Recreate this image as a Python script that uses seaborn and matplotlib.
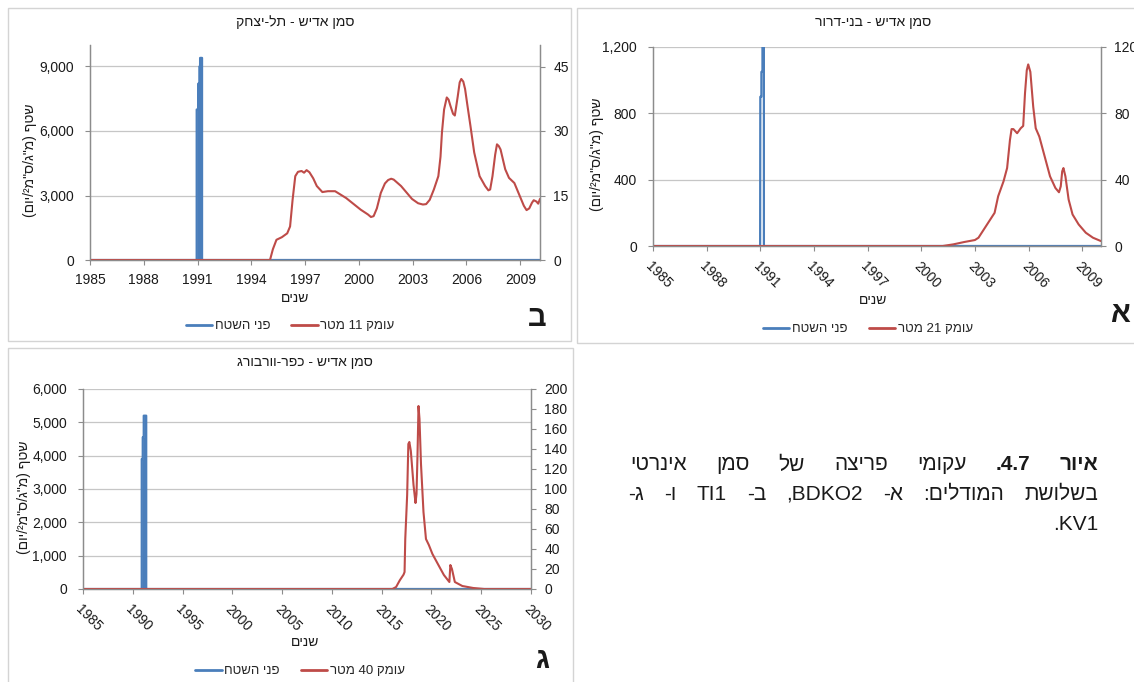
import re
import matplotlib
matplotlib.use("Agg")
import matplotlib.pyplot as plt
import seaborn as sns
from matplotlib.lines import Line2D
from matplotlib.patches import Rectangle
from matplotlib.ticker import FuncFormatter

# ── data ─────────────────────────────────────────────────────────────────────
# panel ב : Tel-Yitzhak (surface on left axis, 11 m depth on right axis)
tl_surf_year = [1985, 1990.95, 1990.951, 1991.03, 1991.031, 1991.10, 1991.101,
                1991.14, 1991.141, 1991.25, 1991.251, 2010.1]
tl_surf_val = [0, 0, 7000, 7000, 8200, 8200, 9000, 9000, 9400, 9400, 0, 0]
tl_deep_year = [1985, 1995.04, 1995.2, 1995.4, 1995.7, 1996.0, 1996.16, 1996.3,
                1996.45, 1996.6, 1996.8, 1996.94, 1997.08, 1997.24, 1997.45,
                1997.65, 1997.96, 1998.27, 1998.67, 1999.29, 2000.1, 2000.5,
                2000.67, 2000.82, 2001.0, 2001.22, 2001.45, 2001.63, 2001.8,
                2001.94, 2002.35, 2002.96, 2003.3, 2003.57, 2003.75, 2003.95,
                2004.18, 2004.43, 2004.55, 2004.63, 2004.75, 2004.9, 2005.0,
                2005.1, 2005.25, 2005.35, 2005.51, 2005.62, 2005.71, 2005.82,
                2005.92, 2006.05, 2006.22, 2006.43, 2006.73, 2007.04, 2007.22,
                2007.32, 2007.45, 2007.6, 2007.7, 2007.8, 2007.9, 2008.16,
                2008.37, 2008.67, 2008.98, 2009.2, 2009.35, 2009.5, 2009.65,
                2009.75, 2009.9, 2010.0, 2010.1]
tl_deep_val = [0, 0, 2.5, 4.7, 5.3, 6.2, 7.8, 14, 19.5, 20.5, 20.7, 20.3, 20.9,
               20.4, 19.0, 17.2, 15.8, 16.0, 16.0, 14.4, 11.7, 10.6, 10.0,
               10.2, 12.0, 15.6, 17.8, 18.6, 18.9, 18.7, 17.2, 14.2, 13.2,
               12.9, 13.0, 14.0, 16.4, 19.5, 24.0, 29.6, 35.0, 37.8, 37.3,
               35.9, 34.0, 33.6, 38.0, 41.3, 42.1, 41.5, 39.8, 36.0, 31.2,
               25.0, 19.5, 17.2, 16.2, 16.4, 19.5, 24.5, 26.9, 26.5, 25.7,
               21.1, 19.1, 17.9, 14.8, 12.6, 11.6, 12.0, 13.3, 13.9, 13.6,
               13.1, 14.2]

# panel א : Bnei-Dror (21 m depth)
bd_surf_year = [1985, 1990.99, 1991.0, 1991.06, 1991.061, 1991.12, 1991.121,
                1991.2, 1991.201, 2010.05]
bd_surf_val = [0, 0, 900, 900, 1050, 1050, 1300, 1300, 0, 0]
bd_deep_year = [1985, 2001.2, 2001.8, 2002.4, 2003.0, 2003.2, 2003.5, 2003.8,
                2004.1, 2004.3, 2004.6, 2004.8, 2004.96, 2005.05, 2005.15,
                2005.36, 2005.56, 2005.7, 2005.8, 2005.9, 2005.98, 2006.1,
                2006.26, 2006.4, 2006.6, 2006.9, 2007.2, 2007.5, 2007.7, 2007.8,
                2007.88, 2007.95, 2008.06, 2008.24, 2008.46, 2008.8, 2009.2,
                2009.6, 2010.04]
bd_deep_val = [0, 0, 1, 2.4, 3.6, 5, 10, 15, 20, 30, 39, 47, 64, 70.5, 70.5,
               68, 71, 72.4, 92, 106, 109.5, 105, 84, 71, 66, 54, 42, 35, 32.4,
               36, 45, 47, 42, 28, 19, 13, 8, 5, 3]

# panel ג : Kfar-Warburg (40 m depth)
kv_surf_year = [1985, 1990.9, 1990.901, 1991.0, 1991.001, 1991.1, 1991.101,
                1991.35, 1991.351, 2030]
kv_surf_val = [0, 0, 3900, 3900, 4550, 4550, 5200, 5200, 0, 0]
kv_deep_year = [1985, 2016.08, 2016.45, 2016.82, 2017.2, 2017.3, 2017.37,
                2017.56, 2017.68, 2017.78, 2017.93, 2018.2, 2018.4, 2018.5,
                2018.6, 2018.7, 2018.8, 2018.95, 2019.2, 2019.45, 2019.74,
                2020.1, 2020.7, 2021.25, 2021.8, 2021.9, 2022.06, 2022.35,
                2023.1, 2024.2, 2025.3, 2030]
kv_deep_val = [0, 0, 2, 8.7, 14.4, 17, 50, 94, 145, 147, 138, 104, 86, 95,
               134, 183, 170, 125, 77, 50, 44, 35, 24, 14, 7, 24, 20, 7, 3, 1,
               0, 0]

surf_label = "פני השטח"
ylabel_text = 'שטף (מ"ג/ס"מ²/יום)'
xlabel_text = "שנים"
caption_lines = ["איור 4.7. עקומי פריצה של סמן אינרטי",
                 "בשלושת המודלים: א- BDKO2, ב- TI1 ו- ג-",
                 "KV1."]

# ── style ────────────────────────────────────────────────────────────────────
sns.set_theme(style="white")
plt.rcParams["font.family"] = ["Liberation Sans", "DejaVu Sans"]

W, H = 1134, 682
BLUE = "#4a7ebb"
RED = "#be4b48"
GRID = "#c6c6c6"
AXIS = "#8c8c8c"
TXT = "#1a1a1a"
comma_fmt = FuncFormatter(lambda v, p: f"{v:,.0f}")

LTR_RUN = re.compile(r"[A-Za-z0-9]+(?:[.,][A-Za-z0-9]+)*")
MIRROR = {"(": ")", ")": "("}


def vis(s):
    """logical RTL string -> visual left-to-right order"""
    tokens, pos = [], 0
    for m in LTR_RUN.finditer(s):
        tokens.extend(s[pos:m.start()])
        tokens.append(m.group())
        pos = m.end()
    tokens.extend(s[pos:])
    return "".join(MIRROR.get(t, t) for t in reversed(tokens))


def fx(x):
    return x / W


def fy(y):
    return 1 - y / H


fig = plt.figure(figsize=(W / 100, H / 100), dpi=100)


def panel(box, axbox, title, surf, deep, deep_label, xlim, xticks,
          ylim_l, yticks_l, ylim_r, yticks_r, rotate, fill, cx, ylab_x,
          xlab_y, leg_y, letter, letter_xy):
    l, t, r, b = box
    fig.add_artist(Rectangle((fx(l), fy(b)), (r - l) / W, (b - t) / H,
                             transform=fig.transFigure, fill=False,
                             ec="#d4d4d4", lw=1))
    al, at, ar, ab = axbox
    ax = fig.add_axes([fx(al), fy(ab), (ar - al) / W, (ab - at) / H])
    ax2 = ax.twinx()

    sx, sy = surf
    if fill:
        ax.fill_between(sx, 0, sy, color=BLUE, lw=0)
    sns.lineplot(x=sx, y=sy, ax=ax, color=BLUE, lw=1.6, estimator=None,
                 sort=False, legend=False)
    dx, dy = deep
    sns.lineplot(x=dx, y=dy, ax=ax2, color=RED, lw=1.5, estimator=None,
                 sort=False, legend=False)

    ax.set_xlim(*xlim)
    ax.set_ylim(*ylim_l)
    ax2.set_ylim(*ylim_r)
    ax.set_xticks(xticks)
    ax.set_yticks(yticks_l)
    ax2.set_yticks(yticks_r)
    ax.yaxis.set_major_formatter(comma_fmt)
    ax.set_xlabel("")
    ax.set_ylabel("")
    ax2.set_ylabel("")
    ax.grid(axis="y", color=GRID, lw=0.9)
    ax.set_axisbelow(True)
    for a in (ax, ax2):
        a.spines["top"].set_visible(False)
        for s in ("left", "right", "bottom"):
            a.spines[s].set_color(AXIS)
            a.spines[s].set_linewidth(0.9)
        a.tick_params(length=3.5, width=0.8, color=AXIS, labelsize=10,
                      labelcolor=TXT)
    ax.tick_params(axis="y", left=True, pad=8)
    ax.tick_params(axis="x", bottom=True, pad=6)
    ax2.tick_params(axis="y", right=True, pad=6)
    if rotate:
        for lab in ax.get_xticklabels():
            lab.set_rotation(-45)
            lab.set_ha("left")
            lab.set_va("top")
            lab.set_rotation_mode("anchor")

    fig.text(fx(cx), fy(t + 14), vis(title), ha="center", va="center",
             fontsize=10, color=TXT)
    fig.text(fx(ylab_x), fy((at + ab) / 2 + 8), vis(ylabel_text), rotation=90,
             ha="center", va="center", fontsize=10, color=TXT)
    fig.text(fx(cx), fy(xlab_y), vis(xlabel_text), ha="center", va="center",
             fontsize=10, color=TXT)
    handles = [Line2D([], [], color=BLUE, lw=2), Line2D([], [], color=RED, lw=2)]
    fig.legend(handles, [vis(surf_label), vis(deep_label)], loc="center",
               bbox_to_anchor=(fx(cx - 5), fy(leg_y)), ncol=2, frameon=False,
               fontsize=9.5, handlelength=2.0, handletextpad=0.2,
               columnspacing=1.6)
    fig.text(fx(letter_xy[0]), fy(letter_xy[1]), letter, ha="center",
             va="center", fontsize=21, fontweight="bold", color=TXT)


# ב (top left)
panel((8, 8, 571, 341), (90, 45, 540, 260), "סמן אדיש - תל-יצחק",
      (tl_surf_year, tl_surf_val), (tl_deep_year, tl_deep_val), "עומק 11 מטר",
      (1985, 2010.1), list(range(1985, 2010, 3)),
      (0, 10000), [0, 3000, 6000, 9000], (0, 50), [0, 15, 30, 45],
      False, True, 295, 30, 298, 326, "ב", (537, 318))

# א (top right)
panel((577, 8, 1140, 343), (653, 47, 1101, 246), "סמן אדיש - בני-דרור",
      (bd_surf_year, bd_surf_val), (bd_deep_year, bd_deep_val), "עומק 21 מטר",
      (1985, 2010.05), list(range(1985, 2010, 3)),
      (0, 1200), [0, 400, 800, 1200], (0, 120), [0, 40, 80, 120],
      True, False, 873, 597, 300, 329, "א", (1120, 314))

# ג (bottom left)
panel((8, 348, 573, 690), (83, 389, 531, 589), "סמן אדיש - כפר-וורבורג",
      (kv_surf_year, kv_surf_val), (kv_deep_year, kv_deep_val), "עומק 40 מטר",
      (1985, 2030), list(range(1985, 2031, 5)),
      (0, 6000), list(range(0, 6001, 1000)), (0, 200), list(range(0, 201, 20)),
      True, True, 305, 24, 642, 671, "ג", (542, 660))

# ── caption (right-to-left, justified) ───────────────────────────────────────
renderer = fig.canvas.get_renderer()


def justify(words, bold, x0, x1, y, size):
    texts = [fig.text(0, fy(y), w, fontsize=size, color=TXT, va="center",
                      ha="left", fontweight="bold" if i in bold else "normal")
             for i, w in enumerate(words)]
    widths = [tx.get_window_extent(renderer).width for tx in texts]
    gap = (x1 - x0 - sum(widths)) / (len(words) - 1)
    x = x0
    for tx, w in zip(texts, widths):
        tx.set_x(fx(x))
        x += w + gap


line1 = vis(caption_lines[0]).split(" ")
justify(line1, {len(line1) - 2, len(line1) - 1}, 630, 1098, 465, 15)
line2 = vis(caption_lines[1]).split(" ")
justify(line2, set(), 628, 1098, 494, 15)
fig.text(fx(1098), fy(524), vis(caption_lines[2]), ha="right", va="center",
         fontsize=15, color=TXT)

fig.savefig("out.png", dpi=100)
